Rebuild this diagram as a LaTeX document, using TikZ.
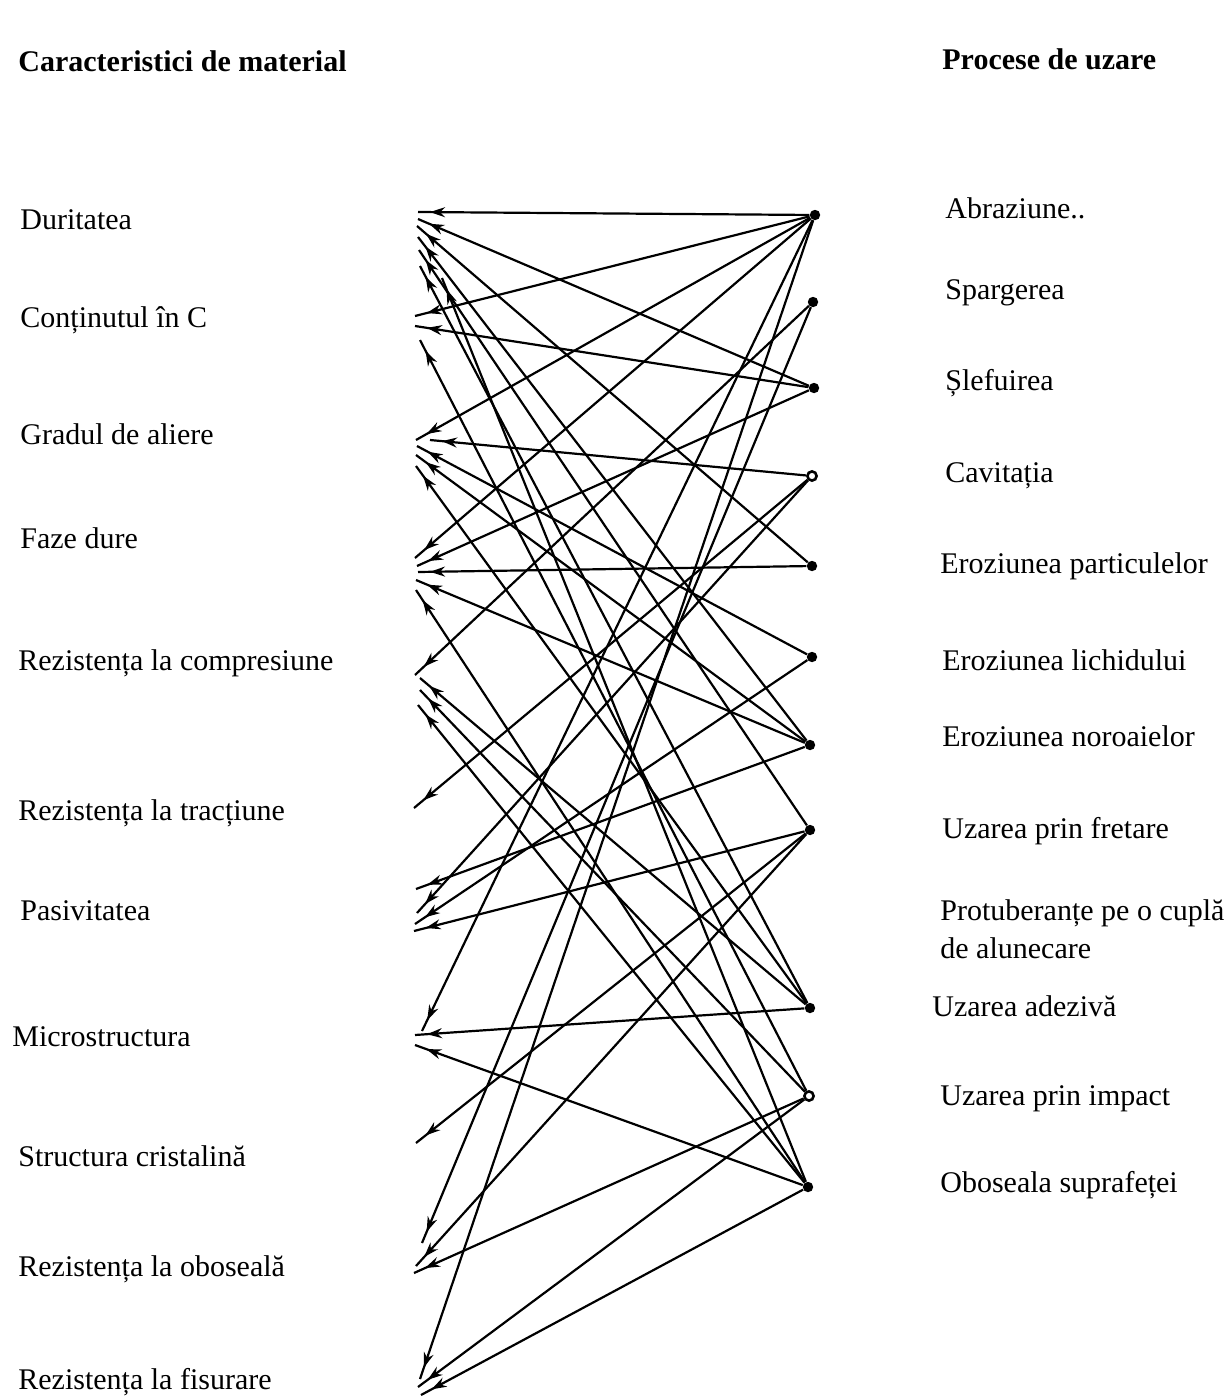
\documentclass[tikz,border=0pt]{standalone}
\usepackage{fontspec}
\setmainfont{Liberation Serif}
\usetikzlibrary{arrows.meta,decorations.markings}
\tikzset{
  conn/.style={line width=1.1pt, postaction={decorate},
    decoration={markings, mark=at position -6pt with {\arrow{Stealth[length=7.5pt,width=5pt]}}}},
  dotnode/.style={circle, fill=black, inner sep=0pt, minimum size=5.2pt},
  ringnode/.style={circle, draw=black, fill=white, line width=1.3pt, inner sep=0pt, minimum size=4.6pt},
  lbl/.style={anchor=base west, inner sep=0pt, font=\fontsize{15}{18}\selectfont},
  hdr/.style={anchor=base west, inner sep=0pt, font=\fontsize{15}{18}\selectfont\bfseries}
}
\begin{document}
\begin{tikzpicture}[x=0.5pt,y=-0.5pt]
\useasboundingbox (0,0) rectangle (1226,1397);
% headers
\node[hdr] (h1) at (18,71) {Caracteristici de material};
\node[hdr] (h2) at (942,69) {Procese de uzare};
% left labels
\node[lbl] (l1) at (20,229) {Duritatea};
\node[lbl] (l2) at (20,327) {Conținutul în C};
\node[lbl] (l3) at (20,444) {Gradul de aliere};
\node[lbl] (l4) at (20,548) {Faze dure};
\node[lbl] (l5) at (18,670) {Rezistența la compresiune};
\node[lbl] (l6) at (18,820) {Rezistența la tracțiune};
\node[lbl] (l7) at (20,920) {Pasivitatea};
\node[lbl] (l8) at (12,1046) {Microstructura};
\node[lbl] (l9) at (18,1166) {Structura cristalină};
\node[lbl] (l10) at (18,1276) {Rezistența la oboseală};
\node[lbl] (l11) at (18,1389) {Rezistența la fisurare};
% right labels
\node[lbl] (r1) at (945,218) {Abraziune..};
\node[lbl] (r2) at (945,299) {Spargerea};
\node[lbl] (r3) at (945,390) {Șlefuirea};
\node[lbl] (r4) at (945,482) {Cavitația};
\node[lbl] (r5) at (940,573) {Eroziunea particulelor};
\node[lbl] (r6) at (942,670) {Eroziunea lichidului};
\node[lbl] (r7) at (942,746) {Eroziunea noroaielor};
\node[lbl] (r8) at (942,838) {Uzarea prin fretare};
\node[lbl] (r9a) at (940,920) {Protuberanțe pe o cuplă};
\node[lbl] (r9b) at (940,958) {de alunecare};
\node[lbl] (r10) at (932,1016) {Uzarea adezivă};
\node[lbl] (r11) at (940,1105) {Uzarea prin impact};
\node[lbl] (r12) at (940,1192) {Oboseala suprafeței};
% dots
\node[dotnode] (D1) at (815,215) {};
\node[dotnode] (D2) at (813,302) {};
\node[dotnode] (D3) at (814,388) {};
\node[ringnode] (D4) at (812,476) {};
\node[dotnode] (D5) at (812,566) {};
\node[dotnode] (D6) at (812,657) {};
\node[dotnode] (D7) at (810,745) {};
\node[dotnode] (D8) at (810,830) {};
\node[dotnode] (D9) at (810,1008) {};
\node[ringnode] (D10) at (809,1096) {};
\node[dotnode] (D11) at (808,1187) {};
% left ends
\coordinate (e1) at (418,212);
\coordinate (e2) at (418,219);
\coordinate (e3) at (417,226);
\coordinate (e4) at (418,237);
\coordinate (e5) at (419,250);
\coordinate (e6) at (420,266);
\coordinate (e7) at (442,278);
\coordinate (c1) at (415,316);
\coordinate (c2) at (415,326);
\coordinate (c3) at (420,340);
\coordinate (g1) at (416,440);
\coordinate (g2) at (430,440);
\coordinate (g3) at (417,446);
\coordinate (g4) at (416,455);
\coordinate (g5) at (416,466);
\coordinate (f1) at (415,558);
\coordinate (f2) at (417,566);
\coordinate (f3) at (418,572);
\coordinate (f4) at (416,580);
\coordinate (f5) at (416,590);
\coordinate (k1) at (415,675);
\coordinate (k2) at (420,678);
\coordinate (k3) at (420,690);
\coordinate (k4) at (418,705);
\coordinate (t1) at (414,808);
\coordinate (p1) at (416,889);
\coordinate (p2) at (417,913);
\coordinate (p3) at (415,924);
\coordinate (p4) at (414,931);
\coordinate (m1) at (422,1031);
\coordinate (m2) at (415,1035);
\coordinate (m3) at (415,1045);
\coordinate (s1) at (416,1143);
\coordinate (o1) at (422,1243);
\coordinate (o2) at (416,1266);
\coordinate (o3) at (414,1273);
\coordinate (x1) at (420,1379);
\coordinate (x2) at (418,1387);
\coordinate (x3) at (421,1395);
% connectors
\draw[conn] (D1) -- (e1);
\draw[conn] (D3) -- (e2);
\draw[conn] (D5) -- (e3);
\draw[conn] (D7) -- (e4);
\draw[conn] (D8) -- (e5);
\draw[conn] (D9) -- (e6);
\draw[conn] (D11) -- (e7);
\draw[conn] (D1) -- (c1);
\draw[conn] (D3) -- (c2);
\draw[conn] (D10) -- (c3);
\draw[conn] (D1) -- (g1);
\draw[conn] (D4) -- (g2);
\draw[conn] (D6) -- (g3);
\draw[conn] (D7) -- (g4);
\draw[conn] (D9) -- (g5);
\draw[conn] (D1) -- (f1);
\draw[conn] (D3) -- (f2);
\draw[conn] (D5) -- (f3);
\draw[conn] (D7) -- (f4);
\draw[conn] (D11) -- (f5);
\draw[conn] (D2) -- (k1);
\draw[conn] (D9) -- (k2);
\draw[conn] (D10) -- (k3);
\draw[conn] (D11) -- (k4);
\draw[conn] (D4) -- (t1);
\draw[conn] (D7) -- (p1);
\draw[conn] (D4) -- (p2);
\draw[conn] (D6) -- (p3);
\draw[conn] (D8) -- (p4);
\draw[conn] (D1) -- (m1);
\draw[conn] (D9) -- (m2);
\draw[conn] (D11) -- (m3);
\draw[conn] (D8) -- (s1);
\draw[conn] (D2) -- (o1);
\draw[conn] (D8) -- (o2);
\draw[conn] (D10) -- (o3);
\draw[conn] (D1) -- (x1);
\draw[conn] (D10) -- (x2);
\draw[conn] (D11) -- (x3);
\end{tikzpicture}
\end{document}
